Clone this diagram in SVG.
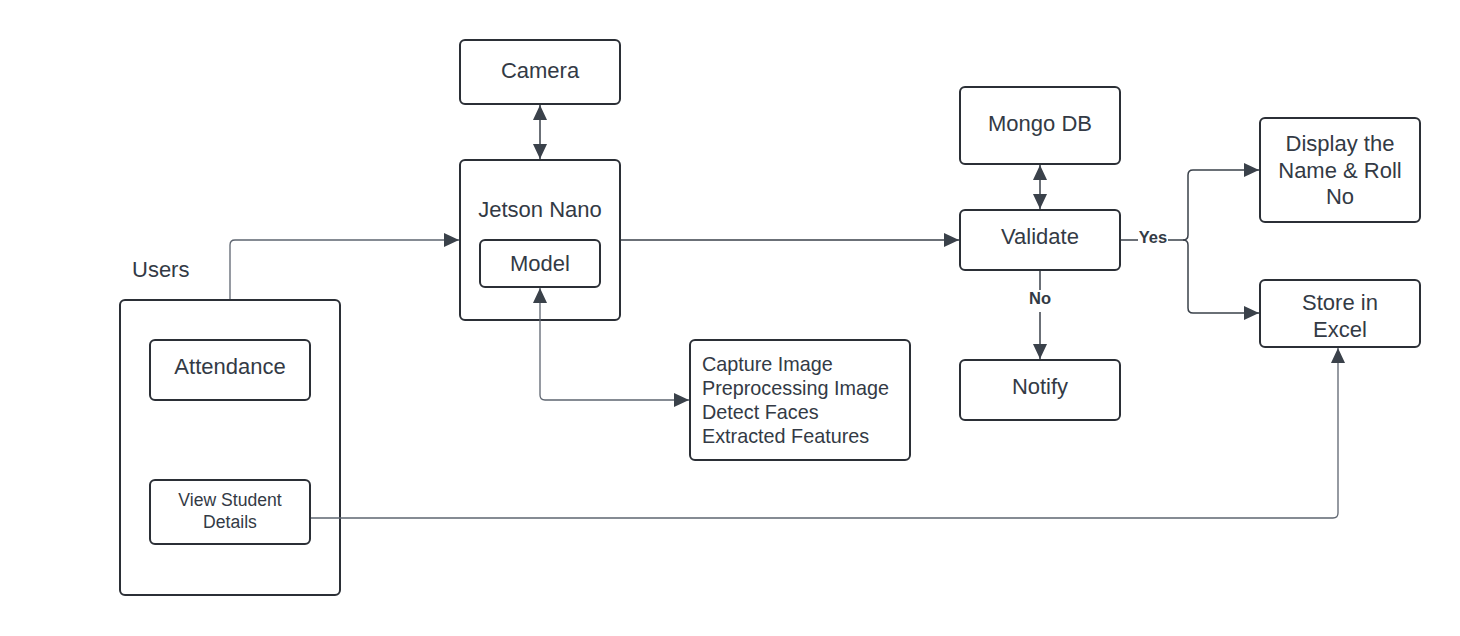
<svg xmlns="http://www.w3.org/2000/svg" width="1460" height="636" viewBox="0 0 1460 636">
<style>
.box{fill:#ffffff;stroke:#2b2f36;stroke-width:2}
.t{font-family:"Liberation Sans",Arial,sans-serif;fill:#333a45;font-size:22px;text-anchor:middle}
.s{font-size:17.6px}
.l{font-size:19.8px;text-anchor:start}
.b{font-weight:bold;font-size:16.5px}
.c{fill:none;stroke:#5e6570;stroke-width:1.3}
.d{fill:none;stroke:#3a414a;stroke-width:1.5}
</style>
<defs>
<marker id="ah" markerUnits="userSpaceOnUse" markerWidth="16" markerHeight="14" refX="15" refY="7" orient="auto-start-reverse" viewBox="0 0 16 14">
<path d="M0,0 L15,7 L0,14 Z" fill="#3a414a"/>
</marker>
</defs>
<rect width="1460" height="636" fill="#ffffff"/>
<g id="users">
<text class="t" x="132" y="277" style="text-anchor:start">Users</text>
<rect class="box" x="120" y="300" width="220" height="295" rx="5"/>
</g>
<g id="attendance">
<rect class="box" x="150" y="340" width="160" height="60" rx="5"/>
<text class="t" x="230" y="374">Attendance</text>
</g>
<g id="view-student">
<rect class="box" x="150" y="480" width="160" height="64" rx="5"/>
<text class="t s" x="230" y="506">View Student</text>
<text class="t s" x="230" y="528">Details</text>
</g>
<g id="camera">
<rect class="box" x="460" y="40" width="160" height="64" rx="5"/>
<text class="t" x="540" y="78">Camera</text>
</g>
<g id="jetson">
<rect class="box" x="460" y="160" width="160" height="160" rx="5"/>
<text class="t" x="540" y="217">Jetson Nano</text>
</g>
<g id="model">
<rect class="box" x="480" y="240" width="120" height="47" rx="5"/>
<text class="t" x="540" y="271">Model</text>
</g>
<g id="steps">
<rect class="box" x="690" y="340" width="220" height="120" rx="5"/>
<text class="t l" x="702" y="371">Capture Image</text>
<text class="t l" x="702" y="395">Preprocessing Image</text>
<text class="t l" x="702" y="419">Detect Faces</text>
<text class="t l" x="702" y="443">Extracted Features</text>
</g>
<g id="mongo">
<rect class="box" x="960" y="87" width="160" height="77" rx="5"/>
<text class="t" x="1040" y="131">Mongo DB</text>
</g>
<g id="validate">
<rect class="box" x="960" y="210" width="160" height="60" rx="5"/>
<text class="t" x="1040" y="244">Validate</text>
</g>
<g id="notify">
<rect class="box" x="960" y="360" width="160" height="60" rx="5"/>
<text class="t" x="1040" y="394">Notify</text>
</g>
<g id="display">
<rect class="box" x="1260" y="118" width="160" height="104" rx="5"/>
<text class="t" x="1340" y="151">Display the</text>
<text class="t" x="1340" y="178">Name &amp; Roll</text>
<text class="t" x="1340" y="204">No</text>
</g>
<g id="store">
<rect class="box" x="1260" y="280" width="160" height="67" rx="5"/>
<text class="t" x="1340" y="310">Store in</text>
<text class="t" x="1340" y="337">Excel</text>
</g>
<g id="connectors">
<path class="d" d="M540,105 L540,159" marker-start="url(#ah)" marker-end="url(#ah)"/>
<path class="c" d="M230,299 L230,245 Q230,240 235,240 L459,240" marker-end="url(#ah)"/>
<path class="d" d="M621,240 L959,240" marker-end="url(#ah)"/>
<path class="c" d="M540,288 L540,395 Q540,400 545,400 L689,400" marker-start="url(#ah)" marker-end="url(#ah)"/>
<path class="d" d="M1040,165 L1040,209" marker-start="url(#ah)" marker-end="url(#ah)"/>
<path class="d" d="M1040,271 L1040,290"/>
<text class="t b" x="1040" y="304">No</text>
<path class="d" d="M1040,312 L1040,359" marker-end="url(#ah)"/>
<path class="d" d="M1121,240 L1138,240"/>
<text class="t b" x="1153" y="243">Yes</text>
<path class="d" d="M1168,240 L1183,240 Q1188,240 1188,235 L1188,175 Q1188,170 1193,170 L1259,170" marker-end="url(#ah)"/>
<path class="d" d="M1183,240 Q1188,240 1188,245 L1188,308 Q1188,313 1193,313 L1259,313" marker-end="url(#ah)"/>
<path class="c" d="M311,518 L1333,518 Q1338,518 1338,513 L1338,348" marker-end="url(#ah)"/>
</g>
</svg>
